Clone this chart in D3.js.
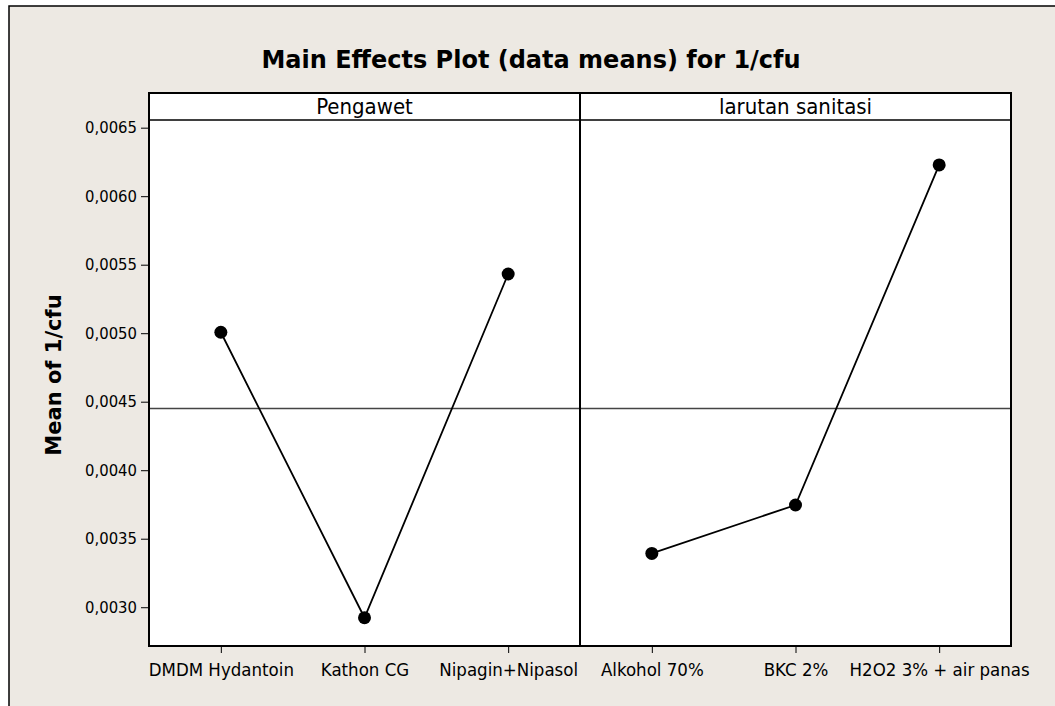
<!DOCTYPE html>
<html>
<head>
<meta charset="utf-8">
<script src="https://cdn.jsdelivr.net/npm/d3@7"></script>
<style>
  body { margin: 0; background: #fff; }
  svg { display: block; }
  .axis path, .axis line { stroke: #000; }
  .axis text { font-family: "DejaVu Sans Condensed", "DejaVu Sans", sans-serif; fill: #000; }
  .y-axis text { font-size: 16.5px; }
  .x-axis text { font-size: 18.5px; }
</style>
</head>
<body>
<svg width="1055" height="706"></svg>
<script>
var pengawet = ["DMDM Hydantoin", "Kathon CG", "Nipagin+Nipasol"],
  pengawetMeans = [0.005007, 0.002923, 0.005432];

var larutan = ["Alkohol 70%", "BKC 2%", "H2O2 3% + air panas"],
  larutanMeans = [0.003393, 0.003746, 0.006228];

var yTicks = [0.0030, 0.0035, 0.0040, 0.0045, 0.0050, 0.0055, 0.0060, 0.0065];
var grandMean = 0.004450;

var panels = [
  {name: "Pengawet", levels: pengawet, means: pengawetMeans},
  {name: "larutan sanitasi", levels: larutan, means: larutanMeans}
];

var svg = d3.select("svg"),
  plotLeft = 149, plotRight = 1011,
  stripTop = 93, plotTop = 120, plotBottom = 646;

// figure background + frame
svg.append("rect")
  .attr("x", 9).attr("y", 6)
  .attr("width", 1100).attr("height", 760)
  .attr("fill", "#ede9e3")
  .attr("stroke", "#000")
  .attr("stroke-width", 1.5);

svg.append("text")
  .attr("x", 531).attr("y", 68)
  .attr("text-anchor", "middle")
  .style("font", "bold 24px 'DejaVu Sans', sans-serif")
  .text("Main Effects Plot (data means) for 1/cfu");

var y = d3.scaleLinear()
  .domain([0.002717, 0.006556])
  .range([plotBottom, plotTop]);

var panelScale = d3.scaleBand()
  .domain(panels.map(function(p) { return p.name; }))
  .range([plotLeft, plotRight]);

// white plot area
svg.append("rect")
  .attr("x", plotLeft).attr("y", stripTop)
  .attr("width", plotRight - plotLeft).attr("height", plotBottom - stripTop)
  .attr("fill", "#fff");

svg.append("g")
  .attr("class", "axis y-axis")
  .attr("transform", "translate(" + plotLeft + ",0)")
  .call(d3.axisLeft(y).tickValues(yTicks).tickSize(8).tickPadding(4)
    .tickFormat(function(d) { return d3.format(".4f")(d).replace(".", ","); }))
  .call(function(g) { g.select(".domain").remove(); });

svg.append("text")
  .attr("transform", "translate(54,375) rotate(-90)")
  .attr("text-anchor", "middle")
  .attr("dy", "0.35em")
  .style("font", "bold 21px 'DejaVu Sans', sans-serif")
  .text("Mean of 1/cfu");

var line = d3.line()
  .x(function(d) { return d.x; })
  .y(function(d) { return y(d.v); });

panels.forEach(function(p) {
  var x0 = panelScale(p.name), w = panelScale.bandwidth();
  var x = d3.scalePoint().domain(p.levels).range([x0, x0 + w]).padding(0.5);

  svg.append("g")
    .attr("class", "axis x-axis")
    .attr("transform", "translate(0," + plotBottom + ")")
    .call(d3.axisBottom(x).tickSize(7).tickPadding(10))
    .call(function(g) { g.select(".domain").remove(); });

  // grand mean reference line
  svg.append("line")
    .attr("x1", x0).attr("x2", x0 + w)
    .attr("y1", y(grandMean)).attr("y2", y(grandMean))
    .attr("stroke", "#444").attr("stroke-width", 1.5);

  var pts = p.levels.map(function(l, i) { return {x: x(l), v: p.means[i]}; });

  svg.append("path")
    .datum(pts)
    .attr("d", line)
    .attr("fill", "none")
    .attr("stroke", "#000")
    .attr("stroke-width", 1.8);

  svg.selectAll(null)
    .data(pts)
    .enter().append("circle")
    .attr("cx", function(d) { return d.x; })
    .attr("cy", function(d) { return y(d.v); })
    .attr("r", 6.5)
    .attr("fill", "#000");

  // strip
  svg.append("rect")
    .attr("x", x0).attr("y", stripTop)
    .attr("width", w).attr("height", plotTop - stripTop)
    .attr("fill", "none").attr("stroke", "#000").attr("stroke-width", 1.5);

  svg.append("text")
    .attr("x", x0 + w / 2).attr("y", stripTop + 21)
    .attr("text-anchor", "middle")
    .style("font", "22px 'DejaVu Sans Condensed', 'DejaVu Sans', sans-serif")
    .text(p.name);

  svg.append("rect")
    .attr("x", x0).attr("y", stripTop)
    .attr("width", w).attr("height", plotBottom - stripTop)
    .attr("fill", "none").attr("stroke", "#000").attr("stroke-width", 2);
});
</script>
</body>
</html>
